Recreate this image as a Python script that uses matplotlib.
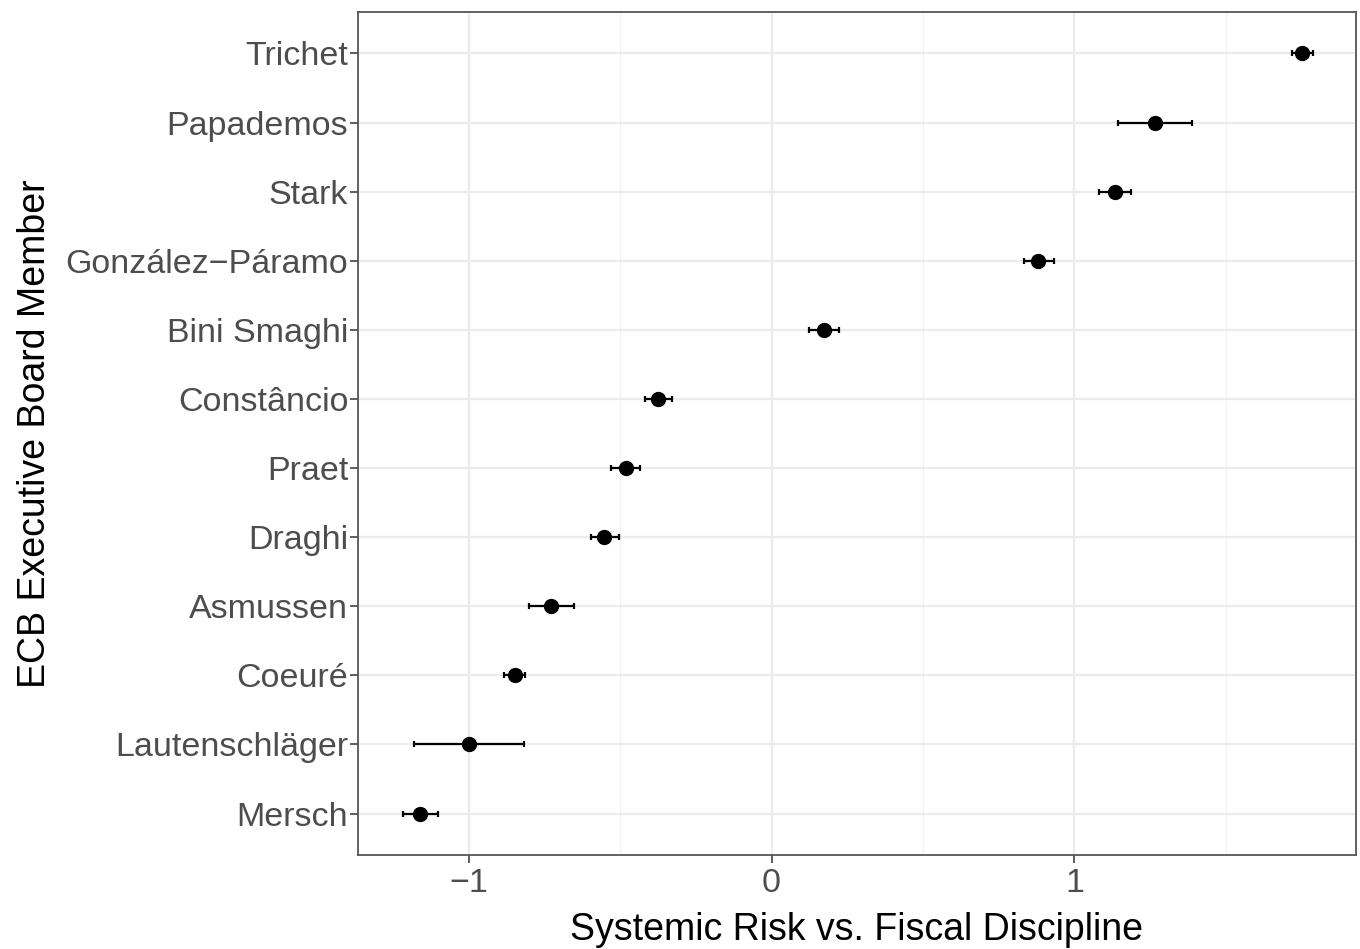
import matplotlib
matplotlib.use("Agg")
import matplotlib.pyplot as plt
from matplotlib.ticker import FixedLocator

members = ["Mersch", "Lautenschläger", "Coeuré", "Asmussen", "Draghi", "Praet",
           "Constâncio", "Bini Smaghi", "González−Páramo", "Stark", "Papademos", "Trichet"]
estimate = [-1.162, -1.000, -0.848, -0.729, -0.554, -0.482,
            -0.376, 0.172, 0.881, 1.135, 1.267, 1.752]
lower = [-1.218, -1.181, -0.884, -0.802, -0.597, -0.531,
         -0.419, 0.125, 0.833, 1.082, 1.145, 1.720]
upper = [-1.102, -0.818, -0.815, -0.653, -0.505, -0.436,
         -0.330, 0.224, 0.931, 1.188, 1.389, 1.789]
x_ticks = [-1, 0, 1]
x_ticklabels = ["−1", "0", "1"]
x_title = "Systemic Risk vs. Fiscal Discipline"
y_title = "ECB Executive Board Member"

plt.rcParams['font.family'] = ['Liberation Sans', 'DejaVu Sans']

fig = plt.figure(figsize=(13.6, 9.49), dpi=100)
ax = fig.add_axes([358/1360, 1-855/949, (1356-358)/1360, (855-12)/949])

ypos = list(range(1, len(members)+1))
xerr = [[e - l for e, l in zip(estimate, lower)], [u - e for e, u in zip(estimate, upper)]]
ax.errorbar(estimate, ypos, xerr=xerr, fmt='o', color='black', ecolor='black',
            markersize=10, elinewidth=1.6, capsize=2.2, capthick=1.6, zorder=3)

ax.set_xlim(-1.366, 1.93)
ax.set_ylim(0.4, len(members)+0.6)
ax.xaxis.set_major_locator(FixedLocator(x_ticks))
ax.set_xticklabels(x_ticklabels)
ax.xaxis.set_minor_locator(FixedLocator([-0.5, 0.5, 1.5]))
ax.set_yticks(ypos)
ax.set_yticklabels(members)

ax.grid(which='major', color='#EBEBEB', linewidth=1.6, zorder=0)
ax.grid(which='minor', axis='x', color='#F2F2F2', linewidth=0.9, zorder=0)
ax.set_axisbelow(True)

for s in ax.spines.values():
    s.set_color('#555555')
    s.set_linewidth(1.3)

ax.tick_params(axis='both', which='major', labelsize=24.5, labelcolor='#4D4D4D',
               color='#333333', length=6, width=1.1, pad=1)
ax.tick_params(axis='x', which='minor', length=0)
ax.tick_params(axis='x', which='major', pad=3)

ax.set_xlabel(x_title, fontsize=27, color='black', labelpad=10)
ax.set_ylabel(y_title, fontsize=27, color='black', labelpad=9)

fig.savefig("out.png", dpi=100, facecolor='white')
